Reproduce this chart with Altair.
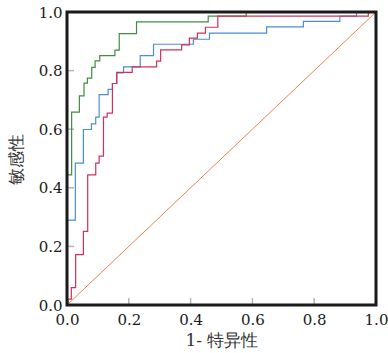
import altair as alt
import pandas as pd

# ROC curves (step-before points: fpr, tpr)
green_fpr = [0, 0.015, 0.040, 0.055, 0.066, 0.080, 0.091, 0.106, 0.155, 0.169, 0.225, 0.457, 0.58, 1.0]
green_tpr = [0, 0.444, 0.658, 0.714, 0.757, 0.774, 0.811, 0.833, 0.851, 0.870, 0.926, 0.966, 0.986, 1.0]

blue_fpr = [0, 0.027, 0.053, 0.079, 0.093, 0.104, 0.133, 0.147, 0.161, 0.183, 0.237, 0.28, 0.409, 0.461, 0.646, 0.765, 0.883, 0.937, 1.0]
blue_tpr = [0, 0.29, 0.484, 0.599, 0.618, 0.641, 0.718, 0.736, 0.756, 0.792, 0.8125, 0.851, 0.890, 0.907, 0.928, 0.949, 0.968, 0.986, 1.0]

red_fpr = [0, 0.003, 0.014, 0.028, 0.053, 0.067, 0.093, 0.104, 0.118, 0.13, 0.147, 0.161, 0.211, 0.29, 0.303, 0.371, 0.396, 0.422, 0.448, 0.488, 0.975, 1.0]
red_tpr = [0, 0.0, 0.02, 0.059, 0.172, 0.251, 0.444, 0.484, 0.508, 0.641, 0.655, 0.756, 0.794, 0.8125, 0.832, 0.871, 0.888, 0.911, 0.928, 0.948, 0.986, 1.0]

diag_x = [0, 1]
diag_y = [0, 1]

tick_values = [0, 0.2, 0.4, 0.6, 0.8, 1.0]

series = ["green", "blue", "red"]
colors = ["#3f8f3f", "#4a8ed0", "#d42f5a"]

rows = []
for name, xs, ys in [("green", green_fpr, green_tpr), ("blue", blue_fpr, blue_tpr), ("red", red_fpr, red_tpr)]:
    for i, (a, b) in enumerate(zip(xs, ys)):
        rows.append({"model": name, "fpr": a, "tpr": b, "order": i})
df = pd.DataFrame(rows)
diag_df = pd.DataFrame({"fpr": diag_x, "tpr": diag_y})
ticks_df = pd.DataFrame({"t": tick_values})
frame_df = pd.DataFrame({"k": [0]})

W, H = 309, 293
serif = "DejaVu Serif"
title_font = "DejaVu Serif, serif"

xscale = alt.Scale(domain=[0, 1], nice=False, zero=False)
yscale = alt.Scale(domain=[0, 1], nice=False, zero=False)

xaxis = alt.Axis(values=tick_values, format=".1f", title="1- 特异性", titlePadding=5, labelPadding=7,
                 labelFont=serif, titleFont=title_font)
yaxis = alt.Axis(values=tick_values, format=".1f", title="敏感性", titlePadding=13, labelPadding=5,
                 labelFont=serif, titleFont=title_font)

diag = alt.Chart(diag_df).mark_line(color="#f4804f", strokeWidth=1).encode(
    x=alt.X("fpr:Q", scale=xscale, axis=xaxis),
    y=alt.Y("tpr:Q", scale=yscale, axis=yaxis),
)

lines = alt.Chart(df).mark_line(interpolate="step-before", strokeWidth=1.2).encode(
    x=alt.X("fpr:Q", scale=xscale, axis=xaxis),
    y=alt.Y("tpr:Q", scale=yscale, axis=yaxis),
    color=alt.Color("model:N", scale=alt.Scale(domain=series, range=colors), legend=None),
    order="order:Q",
)

xticks = alt.Chart(ticks_df).mark_rule(color="#b5b5b5", strokeWidth=1.5).encode(
    x=alt.X("t:Q", scale=xscale, axis=xaxis),
    y=alt.value(H),
    y2=alt.value(H - 7),
)
yticks = alt.Chart(ticks_df).mark_rule(color="#b5b5b5", strokeWidth=1.5).encode(
    y=alt.Y("t:Q", scale=yscale, axis=yaxis),
    x=alt.value(0),
    x2=alt.value(7),
)

frame = alt.Chart(frame_df).mark_rect(fillOpacity=0, stroke="#1a1a1a", strokeWidth=3).encode(
    x=alt.value(0), x2=alt.value(W), y=alt.value(0), y2=alt.value(H),
)

chart = alt.layer(diag, xticks, yticks, lines, frame).properties(
    width=W, height=H,
    background="white",
    autosize=alt.AutoSizeParams(type="none"),
    padding={"left": 67, "top": 12, "right": 12, "bottom": 48},
).configure_axis(
    ticks=False, domain=False, grid=False, labelFlush=False,
    labelFontSize=15, labelColor="#1a1a1a",
    titleFontSize=17, titleFontWeight="normal", titleColor="#333333",
).configure_view(strokeWidth=0)

chart.save("out.html", embed_options={"renderer": "svg", "actions": False})
